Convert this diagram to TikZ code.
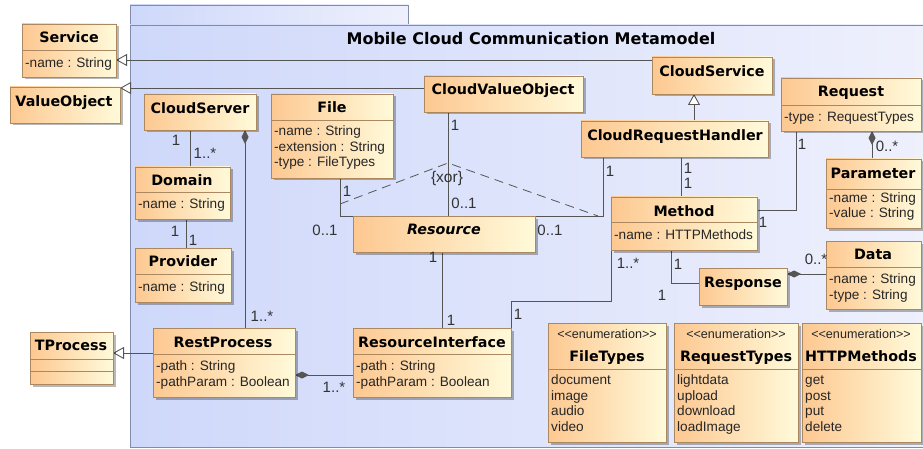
\documentclass[tikz,border=0pt]{standalone}
\usepackage{fontspec}
\setmainfont{Liberation Sans}
\newfontfamily\dvs{DejaVu Sans}
\usetikzlibrary{arrows.meta,shadows,fit}
\definecolor{boxA}{RGB}{253,200,145}
\definecolor{boxB}{RGB}{255,250,218}
\definecolor{boxline}{RGB}{172,136,96}
\definecolor{frameA}{RGB}{206,216,250}
\definecolor{frameB}{RGB}{238,240,252}
\definecolor{frameline}{RGB}{130,140,170}
\definecolor{conncol}{RGB}{85,85,85}
\pgfdeclarelayer{back}
\pgfdeclarelayer{mid}
\pgfsetlayers{back,mid,main}
\tikzset{
 clsbox/.style={draw=boxline, line width=0.9pt, left color=boxA, right color=boxB, inner sep=0pt, outer sep=0pt,
   drop shadow={shadow xshift=2.5pt, shadow yshift=-2.5pt, fill=black, opacity=0.28}},
 pkgbox/.style={draw=frameline, line width=0.9pt, left color=frameA, right color=frameB, inner sep=0pt, outer sep=0pt},
 divline/.style={draw=boxline, line width=0.9pt},
 ctitle/.style={font=\dvs\bfseries\fontsize{14.3}{16}\selectfont, inner sep=0pt, anchor=base, text=black},
 cattr/.style={font=\fontsize{13.6}{15.5}\selectfont, inner sep=0pt, anchor=base west, text=black!85},
 stereo/.style={font=\fontsize{12.6}{14}\selectfont, inner sep=0pt, anchor=base, text=black!85},
 mult/.style={font=\fontsize{15}{17}\selectfont, inner sep=0pt, text=black!80},
 conn/.style={draw=conncol, line width=0.9pt},
 gen/.style={conn, -{Triangle[length=11pt, width=12pt, fill=white]}},
 comp/.style={conn, -{Diamond[length=14pt, width=7pt, fill=conncol]}},
}
\newcommand\umlbox[5]{\node[clsbox, fit={(#2,#3) (#4,#5)}] (#1) {};}
\begin{document}
\begin{tikzpicture}[x=1pt,y=-1pt]
\useasboundingbox (0,0) rectangle (923,449);
% package frame
\begin{pgfonlayer}{back}
\node[pkgbox, fit={(130,5) (408,25)}] (pkgtab) {};
\node[pkgbox, fit={(130,25) (926,447)}] (pkg) {};
\end{pgfonlayer}
\node[font=\dvs\bfseries\fontsize{16}{18}\selectfont, inner sep=0pt] (pkgtitle) at (531,39) {Mobile Cloud Communication Metamodel};

% classes
\umlbox{service}{22}{24}{116}{77}
\draw[divline] (22,50) -- (116,50);
\node[ctitle] (service-t) at (69,42.2) {Service};
\node[cattr] (service-a) at (25,67.3) {-name : String};

\umlbox{valueobject}{10}{87}{120}{123}
\node[ctitle] (valueobject-t) at (64,106.2) {ValueObject};

\umlbox{cloudserver}{144}{94}{256}{130}
\node[ctitle] (cloudserver-t) at (200,113.2) {CloudServer};

\umlbox{file}{271}{94}{393}{178}
\draw[divline] (271,120) -- (393,120);
\node[ctitle] (file-t) at (332,112.2) {File};
\node[cattr] (file-a1) at (274,135.8) {-name : String};
\node[cattr] (file-a2) at (274,151.3) {-extension : String};
\node[cattr] (file-a3) at (274,166.8) {-type : FileTypes};

\umlbox{cloudvalueobject}{424}{76}{583}{112}
\node[ctitle] (cloudvalueobject-t) at (503,94.2) {CloudValueObject};

\umlbox{cloudservice}{652}{57}{772}{94}
\node[ctitle] (cloudservice-t) at (712,76.2) {CloudService};

\umlbox{crh}{581}{121}{768}{157}
\node[ctitle] (crh-t) at (675,140.2) {CloudRequestHandler};

\umlbox{request}{781}{78}{921}{131}
\draw[divline] (781,105) -- (921,105);
\node[ctitle] (request-t) at (851,96.2) {Request};
\node[cattr] (request-a) at (784,121.8) {-type : RequestTypes};

\umlbox{parameter}{826}{159}{921}{228}
\draw[divline] (826,189) -- (921,189);
\node[ctitle] (parameter-t) at (873,178.2) {Parameter};
\node[cattr] (parameter-a1) at (829,202.3) {-name : String};
\node[cattr] (parameter-a2) at (829,217.8) {-value : String};

\umlbox{method}{611}{197}{757}{250}
\draw[divline] (611,222) -- (757,222);
\node[ctitle] (method-t) at (684,216.2) {Method};
\node[cattr] (method-a) at (614,239.8) {-name : HTTPMethods};

\umlbox{data}{826}{241}{921}{309}
\draw[divline] (826,267) -- (921,267);
\node[ctitle] (data-t) at (873,259.2) {Data};
\node[cattr] (data-a1) at (829,283.8) {-name : String};
\node[cattr] (data-a2) at (829,299.3) {-type : String};

\umlbox{response}{699}{268}{787}{305}
\node[ctitle] (response-t) at (743,287.2) {Response};

\umlbox{resource}{353}{216}{535}{252}
\node[ctitle, font=\dvs\bfseries\itshape\fontsize{14.3}{16}\selectfont] (resource-t) at (444,234.2) {Resource};

\umlbox{domain}{135}{167}{230}{219}
\draw[divline] (135,192) -- (230,192);
\node[ctitle] (domain-t) at (182,185.2) {Domain};
\node[cattr] (domain-a) at (138,208.8) {-name : String};

\umlbox{provider}{135}{248}{231}{302}
\draw[divline] (135,274) -- (231,274);
\node[ctitle] (provider-t) at (183,266.2) {Provider};
\node[cattr] (provider-a) at (138,291.3) {-name : String};

\umlbox{restprocess}{153}{328}{295}{397}
\draw[divline] (153,354) -- (295,354);
\node[ctitle] (restprocess-t) at (223,347.2) {RestProcess};
\node[cattr] (restprocess-a1) at (156,370.8) {-path : String};
\node[cattr] (restprocess-a2) at (156,386.3) {-pathParam : Boolean};

\umlbox{tprocess}{30}{332}{113}{384}
\draw[divline] (30,359) -- (113,359);
\draw[divline] (30,371) -- (113,371);
\node[ctitle] (tprocess-t) at (71,350.7) {TProcess};

\umlbox{resourceinterface}{353}{328}{511}{397}
\draw[divline] (353,354) -- (511,354);
\node[ctitle] (resourceinterface-t) at (432,347.2) {ResourceInterface};
\node[cattr] (resourceinterface-a1) at (356,370.8) {-path : String};
\node[cattr] (resourceinterface-a2) at (356,386.3) {-pathParam : Boolean};

% enumerations
\umlbox{filetypes}{548}{323}{666}{442}
\draw[divline] (548,369) -- (666,369);
\node[stereo] (filetypes-s) at (607,338.5) {<{}<enumeration>{}>};
\node[ctitle] (filetypes-t) at (607,361.2) {FileTypes};
\node[cattr] (filetypes-l1) at (551,384.8) {document};
\node[cattr] (filetypes-l2) at (551,400.3) {image};
\node[cattr] (filetypes-l3) at (551,415.8) {audio};
\node[cattr] (filetypes-l4) at (551,431.3) {video};

\umlbox{requesttypes}{674}{323}{798}{442}
\draw[divline] (674,369) -- (798,369);
\node[stereo] (requesttypes-s) at (736,338.5) {<{}<enumeration>{}>};
\node[ctitle] (requesttypes-t) at (736,361.2) {RequestTypes};
\node[cattr] (requesttypes-l1) at (677,384.8) {lightdata};
\node[cattr] (requesttypes-l2) at (677,400.3) {upload};
\node[cattr] (requesttypes-l3) at (677,415.8) {download};
\node[cattr] (requesttypes-l4) at (677,431.3) {loadImage};

\umlbox{httpmethods}{802}{323}{921}{442}
\draw[divline] (802,369) -- (921,369);
\node[stereo] (httpmethods-s) at (861,338.5) {<{}<enumeration>{}>};
\node[ctitle] (httpmethods-t) at (861,361.2) {HTTPMethods};
\node[cattr] (httpmethods-l1) at (805,384.8) {get};
\node[cattr] (httpmethods-l2) at (805,400.3) {post};
\node[cattr] (httpmethods-l3) at (805,415.8) {put};
\node[cattr] (httpmethods-l4) at (805,431.3) {delete};

% connectors
\begin{pgfonlayer}{mid}
\draw[gen] (cloudservice.west |- 0,60) -- (service.east |- 0,60);
\draw[gen] (cloudvalueobject.west |- 0,88) -- (valueobject.east |- 0,88);
\draw[gen] (crh.north -| 694,0) -- (cloudservice.south -| 694,0);
\draw[gen] (restprocess.west |- 0,353) -- (tprocess.east |- 0,353);
\draw[conn] (cloudserver.south -| 190,0) -- (domain.north -| 190,0);
\draw[comp] (restprocess.north -| 245,0) -- (cloudserver.south -| 245,0);
\draw[conn] (domain.south -| 186,0) -- (provider.north -| 186,0);
\draw[conn] (file.south -| 340,0) |- (resource.north west);
\draw[conn] (cloudvalueobject.south -| 448,0) -- (resource.north -| 448,0);
\draw[conn] (crh.south -| 603,0) |- (resource.north east);
\draw[conn] (crh.south -| 681,0) -- (method.north -| 681,0);
\draw[conn] (request.south -| 796,0) |- (method.east |- 0,210);
\draw[comp] (parameter.north -| 872,0) -- (request.south -| 872,0);
\draw[conn] (method.south -| 671,0) |- (response.west |- 0,283);
\draw[comp] (data.west |- 0,274) -- (response.east |- 0,274);
\draw[conn] (method.south west) -- ++(0,51) -| (resourceinterface.north east);
\draw[conn] (resource.south -| 442,0) -- (resourceinterface.north -| 442,0);
\draw[comp] (resourceinterface.west |- 0,375) -- (restprocess.east |- 0,375);
% xor constraint
\coordinate (xa) at (340,204);
\coordinate (xb) at (448,163);
\coordinate (xc) at (598,216);
\draw[conn, line width=0.8pt, dash pattern=on 9pt off 6pt] (xa) -- (xb) -- (xc);
\end{pgfonlayer}
\node[mult, font=\fontsize{15.5}{17}\selectfont] (xor) at (447,178) {\{xor\}};

% multiplicities
\node[mult] (m1) at (176,140) {1};
\node[mult] (m2) at (205,153) {1..*};
\node[mult] (m3) at (262,316) {1..*};
\node[mult] (m4) at (175,231) {1};
\node[mult] (m5) at (193,240) {1};
\node[mult] (m6) at (347,191) {1};
\node[mult] (m7) at (325,230) {0..1};
\node[mult] (m8) at (455,125) {1};
\node[mult] (m9) at (464,203) {0..1};
\node[mult] (m10) at (610,171) {1};
\node[mult] (m11) at (550,230) {0..1};
\node[mult] (m12) at (688,168) {1};
\node[mult] (m13) at (688,183) {1};
\node[mult] (m14) at (802,144) {1};
\node[mult] (m15) at (763,222) {1};
\node[mult] (m16) at (887,146) {0..*};
\node[mult] (m17) at (678,264) {1};
\node[mult] (m18) at (662,295) {1};
\node[mult] (m19) at (816,259) {0..*};
\node[mult] (m20) at (628,263) {1..*};
\node[mult] (m21) at (518,314) {1};
\node[mult] (m22) at (433,257) {1};
\node[mult] (m23) at (451,320) {1};
\node[mult] (m24) at (334,387) {1..*};
\end{tikzpicture}
\end{document}
